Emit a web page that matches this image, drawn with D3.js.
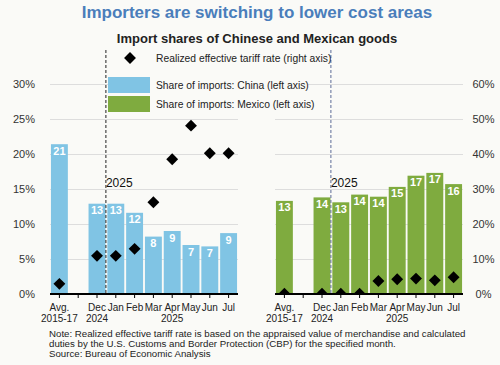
<!DOCTYPE html>
<html>
<head>
<meta charset="utf-8">
<script src="https://cdn.jsdelivr.net/npm/d3@7"></script>
<style>
  body { margin: 0; background: #fafaf7; }
  svg { font-family: "Liberation Sans", Arial, sans-serif; }
</style>
</head>
<body>
<div id="chart"></div>
<script>
// données
const cats = ["avg", "gap", "dec", "jan", "feb", "mar", "apr", "may", "jun", "jul"];
const tickLine1 = ["Avg.", "", "Dec", "Jan", "Feb", "Mar", "Apr", "May", "Jun", "Jul"];
const tickLine2 = ["2015-17", "", "2024", "", "", "", "2025", "", "", ""];
const chinaShare = [21.4, null, 12.9, 12.9, 11.6, 8.2, 9.0, 7.0, 6.8, 8.7];
const chinaTariff = [2.9, null, 10.9, 10.9, 12.9, 26.2, 38.5, 48.1, 40.2, 40.2];
const mexicoShare = [13.3, null, 13.8, 13.1, 14.2, 13.9, 15.3, 16.9, 17.3, 15.7];
const mexicoTariff = [0.1, null, 0.1, 0.1, 0.1, 3.7, 4.2, 4.4, 3.9, 4.8];
const leftTicks = [0, 5, 10, 15, 20, 25, 30];
const rightTicks = [0, 10, 20, 30, 40, 50, 60];

const W = 500, H = 365;
const baseY = 294, topY = 84;
const blue = "#80c4e4", green = "#7fab3f", bg = "#fafaf7";

const svg = d3.select("#chart").append("svg")
  .attr("width", W).attr("height", H);

svg.append("rect").attr("width", W).attr("height", H).attr("fill", bg);

// titres
svg.append("text").attr("x", 257).attr("y", 18)
  .attr("text-anchor", "middle").attr("font-size", 17).attr("font-weight", "bold")
  .attr("fill", "#4a7ebb").text("Importers are switching to lower cost areas");
svg.append("text").attr("x", 257).attr("y", 43)
  .attr("text-anchor", "middle").attr("font-size", 13).attr("font-weight", "bold")
  .attr("fill", "#222").text("Import shares of Chinese and Mexican goods");

// échelles
const yL = d3.scaleLinear().domain([0, 30]).range([baseY, topY]);
const yR = d3.scaleLinear().domain([0, 60]).range([baseY, topY]);

svg.append("defs").append("clipPath").attr("id", "clip")
  .append("rect").attr("x", 0).attr("y", 0).attr("width", W).attr("height", baseY);

const diamond = d3.symbol().type(d3.symbolDiamond2 || d3.symbolSquare).size(90);

function panel(x0, x1, share, tariff, color, dashColor) {
  const x = d3.scaleBand().domain(cats).range([x0, x1]).paddingInner(0.1).paddingOuter(0.05);
  const data = cats.map((c, i) => ({ c, s: share[i], t: tariff[i], l1: tickLine1[i], l2: tickLine2[i] }));
  const g = svg.append("g");

  // grille
  g.selectAll(".grid").data(leftTicks.slice(1)).join("line")
    .attr("x1", x0).attr("x2", x1)
    .attr("y1", d => yL(d) + 0.5).attr("y2", d => yL(d) + 0.5)
    .attr("stroke", "#ddd").attr("stroke-width", 1);

  // barres
  const bars = data.filter(d => d.s != null);
  g.selectAll(".bar").data(bars).join("rect")
    .attr("x", d => x(d.c)).attr("width", x.bandwidth())
    .attr("y", d => yL(d.s)).attr("height", d => yL(0) - yL(d.s))
    .attr("fill", color);
  g.selectAll(".val").data(bars).join("text")
    .attr("x", d => x(d.c) + x.bandwidth() / 2).attr("y", d => yL(d.s) + 10.5)
    .attr("text-anchor", "middle").attr("font-size", 11).attr("font-weight", "bold")
    .attr("fill", "#fff").text(d => d3.format(".0f")(d.s));

  // ligne pointillée 2025
  const xd = x0 + x.step() * 3 - 0.5;
  g.append("line").attr("x1", xd).attr("x2", xd).attr("y1", 50).attr("y2", baseY)
    .attr("stroke", dashColor).attr("stroke-width", 1).attr("stroke-dasharray", "3,2");
  g.append("text").attr("x", xd).attr("y", 187).attr("font-size", 12)
    .attr("fill", "#111").text("2025");

  // losanges
  g.append("g").attr("clip-path", "url(#clip)")
    .selectAll("path").data(data.filter(d => d.t != null)).join("path")
    .attr("d", diamond)
    .attr("transform", d => `translate(${x(d.c) + x.bandwidth() / 2},${yR(d.t)})`)
    .attr("fill", "#000");

  // axe x
  const ax = g.append("g").attr("transform", `translate(0,${baseY})`)
    .call(d3.axisBottom(x).tickSize(4).tickSizeOuter(0).tickFormat(""));
  ax.select(".domain").attr("stroke-width", 2).attr("stroke", "#000")
    .attr("d", `M${x0},0H${x1}`);
  ax.selectAll(".tick line").attr("stroke", "#000");
  g.selectAll(".l1").data(data).join("text")
    .attr("x", d => x(d.c) + x.bandwidth() / 2).attr("y", 311)
    .attr("text-anchor", "middle").attr("font-size", 10).attr("fill", "#222")
    .text(d => d.l1);
  g.selectAll(".l2").data(data).join("text")
    .attr("x", d => x(d.c) + x.bandwidth() / 2).attr("y", 322)
    .attr("text-anchor", "middle").attr("font-size", 10).attr("fill", "#222")
    .text(d => d.l2);
}

panel(50, 238, chinaShare, chinaTariff, blue, "#222");
panel(275, 463, mexicoShare, mexicoTariff, green, "#5d6c98");

// axes y
const axL = svg.append("g").attr("transform", "translate(35,0)")
  .call(d3.axisLeft(yL).tickValues(leftTicks).tickSize(0).tickPadding(0).tickFormat(d => d + "%"));
axL.select(".domain").remove();
axL.selectAll("text").attr("font-size", 11).attr("fill", "#333")
  .attr("font-family", "Liberation Sans, Arial, sans-serif");

const axR = svg.append("g").attr("transform", "translate(483.5,0)")
  .call(d3.axisRight(yR).tickValues(rightTicks).tickSize(0).tickPadding(0).tickFormat(d => d + "%"));
axR.select(".domain").remove();
axR.selectAll("text").attr("font-size", 11).attr("fill", "#333").attr("text-anchor", "middle")
  .attr("font-family", "Liberation Sans, Arial, sans-serif");

// légende
const leg = svg.append("g");
leg.append("rect").attr("x", 108).attr("y", 76).attr("width", 200).attr("height", 37).attr("fill", bg);
leg.append("path").attr("d", diamond).attr("transform", "translate(130,58)").attr("fill", "#000");
leg.append("text").attr("x", 156).attr("y", 62).attr("font-size", 10.3).attr("fill", "#222")
  .text("Realized effective tariff rate (right axis)");
leg.append("rect").attr("x", 108).attr("y", 77).attr("width", 42).attr("height", 16).attr("fill", blue);
leg.append("text").attr("x", 156).attr("y", 89).attr("font-size", 10.3).attr("fill", "#222")
  .text("Share of imports: China (left axis)");
leg.append("rect").attr("x", 108).attr("y", 96).attr("width", 42).attr("height", 16).attr("fill", green);
leg.append("text").attr("x", 156).attr("y", 108).attr("font-size", 10.3).attr("fill", "#222")
  .text("Share of imports: Mexico (left axis)");

// note
const note = [
  "Note: Realized effective tariff rate is based on the appraised value of merchandise and calculated",
  "duties by the U.S. Customs and Border Protection (CBP) for the specified month.",
  "Source: Bureau of Economic Analysis"
];
svg.append("g").selectAll("text").data(note).join("text")
  .attr("x", 49).attr("y", (d, i) => 337 + i * 10)
  .attr("font-size", 9.7).attr("fill", "#222").text(d => d);
</script>
</body>
</html>
